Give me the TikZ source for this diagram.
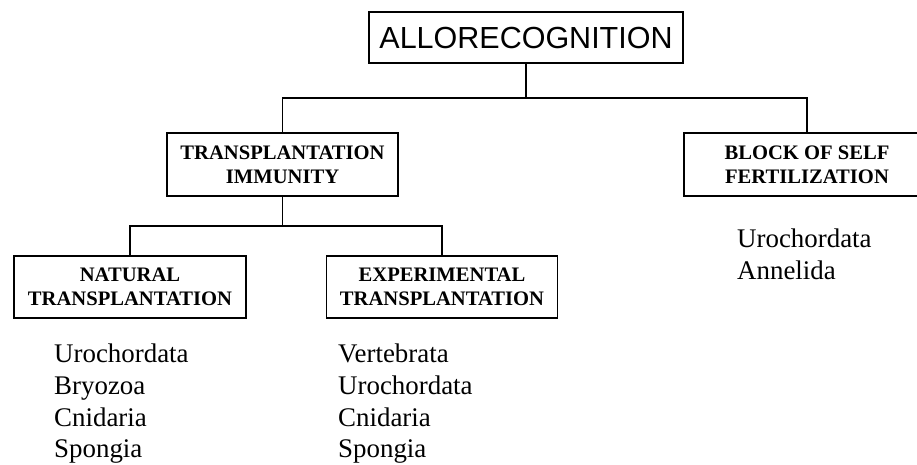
\documentclass[tikz,border=0pt]{standalone}
\usepackage{fontspec}
\setmainfont{Liberation Serif}
\newfontfamily\arialfont{Liberation Sans}
\begin{document}
\begin{tikzpicture}[x=1pt,y=-1pt,
  box/.style={draw=black,line width=1.3pt,inner sep=0pt,align=center,
    font=\bfseries\fontsize{20.6}{24}\selectfont},
  conn/.style={draw=black,line width=1.2pt},
  item/.style={anchor=base west,inner sep=0pt,font=\fontsize{26.9}{31.5}\selectfont}]
\useasboundingbox (0,0) rectangle (917,464);
\clip (0,0) rectangle (917,464);
\node[draw=black,line width=1.3pt,inner sep=0pt,minimum width=314pt,minimum height=51pt,
  font=\arialfont\fontsize{30.5}{36}\selectfont] (top) at (526,37.5) {ALLORECOGNITION};
\node[box,minimum width=231pt,minimum height=63pt] (TI) at (282.5,164.5) {TRANSPLANTATION\\IMMUNITY};
\node[box,minimum width=246pt,minimum height=63pt] (BSF) at (807,164.5) {BLOCK OF SELF\\FERTILIZATION};
\node[box,minimum width=232pt,minimum height=62pt] (NT) at (130,287) {NATURAL\\TRANSPLANTATION};
\node[box,minimum width=231pt,minimum height=62pt] (EXP) at (442,287) {EXPERIMENTAL\\TRANSPLANTATION};
\coordinate (h1) at (526,98);
\coordinate (h2) at (282.5,226);
\draw[conn] (top.south) -- (h1);
\draw[conn] (TI.north) |- (h1) -| (BSF.north);
\draw[conn] (TI.south) -- (h2);
\draw[conn] (NT.north) |- (h2) -| (EXP.north);
\node[item] (n1) at (54,362) {Urochordata};
\node[item] (n2) at (54,394) {Bryozoa};
\node[item] (n3) at (54,426) {Cnidaria};
\node[item] (n4) at (54,457) {Spongia};
\node[item] (e1) at (338,362) {Vertebrata};
\node[item] (e2) at (338,394) {Urochordata};
\node[item] (e3) at (338,426) {Cnidaria};
\node[item] (e4) at (338,457) {Spongia};
\node[item] (b1) at (737,247) {Urochordata};
\node[item] (b2) at (737,279) {Annelida};
\end{tikzpicture}
\end{document}
